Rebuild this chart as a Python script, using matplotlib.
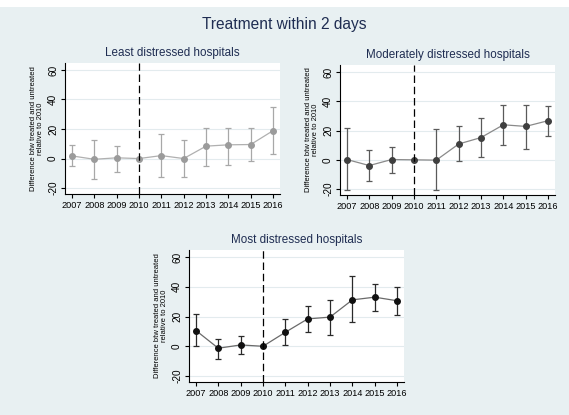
import numpy as np
import matplotlib.pyplot as plt
from matplotlib.patches import Rectangle

plt.rcParams['font.family'] = ['Liberation Sans', 'DejaVu Sans']

years = [2007, 2008, 2009, 2010, 2011, 2012, 2013, 2014, 2015, 2016]

# least distressed
least_est = [1.8, -0.5, 0.5, 0.0, 2.0, 0.0, 8.4, 9.3, 9.5, 18.9]
least_lo = [-5.2, -13.9, -8.9, 0.0, -12.3, -12.3, -5.2, -4.1, -1.8, 3.0]
least_hi = [9.3, 12.3, 8.6, 0.0, 16.4, 12.3, 21.0, 21.0, 21.0, 34.8]

# moderately distressed
mod_est = [0.2, -3.9, 0.2, 0.0, -0.2, 10.8, 15.2, 23.9, 22.8, 26.7]
mod_lo = [-20.9, -14.7, -9.0, 0.0, -20.9, -1.1, 1.6, 10.1, 7.4, 16.1]
mod_hi = [21.6, 6.9, 8.7, 0.0, 20.7, 22.8, 28.7, 37.7, 37.7, 37.0]

# most distressed
most_est = [10.6, -1.3, 0.9, 0.0, 9.4, 18.4, 19.6, 31.2, 33.0, 30.6]
most_lo = [0.0, -8.3, -4.9, 0.0, 0.7, 9.7, 7.6, 16.0, 23.6, 20.9]
most_hi = [22.0, 5.2, 6.7, 0.0, 18.4, 27.0, 31.0, 47.2, 42.0, 40.0]

yticks = [-20, 0, 20, 40, 60]
ylab = 'Difference btw treated and untreated\nrelative to 2010'
navy = '#1f2d52'
bg = '#e8f0f2'

fig = plt.figure(figsize=(5.69, 4.15), dpi=100, facecolor=bg)
# white strip at the very top of the screenshot
fig.patches.append(Rectangle((0, 1 - 7 / 415), 1, 7 / 415, transform=fig.transFigure,
                             facecolor='white', edgecolor='none', zorder=0))
fig.text(0.5, 1 - 25 / 415, 'Treatment within 2 days', ha='center', va='center',
         fontsize=11.2, color=navy)


def panel(rect, title, est, lo, hi, mcol, lcol, ecol):
    ax = fig.add_axes(rect)
    ax.set_facecolor('white')
    est = np.array(est)
    err = np.vstack([est - np.array(lo), np.array(hi) - est])
    ax.plot(years, est, color=lcol, lw=0.9, zorder=2)
    ax.errorbar(years, est, yerr=err, fmt='none', ecolor=ecol, elinewidth=0.9,
                capsize=2.5, capthick=0.9, zorder=3)
    ax.plot(years, est, 'o', color=mcol, ms=4, zorder=4)
    ax.axvline(2010, color='black', ls=(0, (6, 3)), lw=0.9, zorder=5)
    ax.set_xlim(2006.69, 2016.31)
    ax.set_ylim(-24, 64.7)
    ax.set_xticks(years)
    ax.set_xticklabels([str(y) for y in years], fontsize=6.6)
    ax.set_yticks(yticks)
    ax.set_yticklabels([str(t) for t in yticks], fontsize=7.2, rotation=90, va='center')
    ax.yaxis.grid(True, color='#e3ebee', lw=0.8)
    ax.set_axisbelow(True)
    for s in ['top', 'right']:
        ax.spines[s].set_visible(False)
    ax.spines['left'].set_linewidth(0.8)
    ax.spines['bottom'].set_linewidth(0.8)
    ax.tick_params(length=3, width=0.8, pad=2)
    ax.set_ylabel(ylab, fontsize=5.5, linespacing=1.0, labelpad=3)
    ax.set_title(title, fontsize=8.4, color=navy, pad=5)
    return ax


panel([65 / 569, 1 - 194 / 415, 215 / 569, 131 / 415], 'Least distressed hospitals',
      least_est, least_lo, least_hi, '#9b9b9b', '#b0b0b0', '#a8a8a8')
panel([340 / 569, 1 - 195 / 415, 215 / 569, 130 / 415], 'Moderately distressed hospitals',
      mod_est, mod_lo, mod_hi, '#3f3f3f', '#8a8a8a', '#5a5a5a')
panel([189 / 569, 1 - 382 / 415, 215 / 569, 132 / 415], 'Most distressed hospitals',
      most_est, most_lo, most_hi, '#111111', '#6a6a6a', '#2a2a2a')

fig.savefig('out.png', dpi=100, facecolor=bg)
